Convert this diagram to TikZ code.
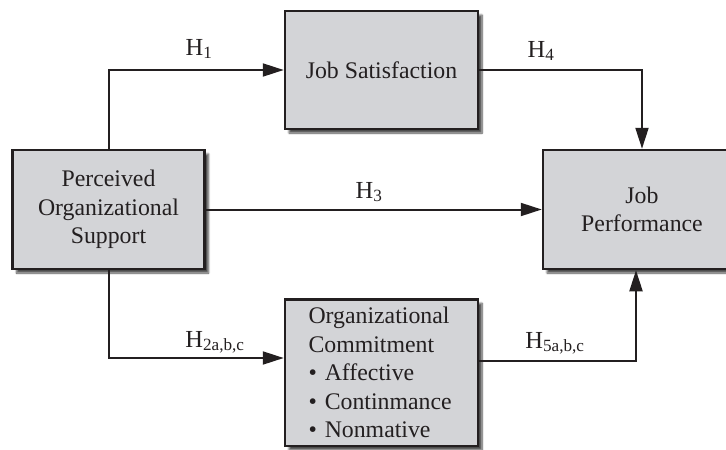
\documentclass[tikz,border=0pt]{standalone}
\usepackage{fontspec}
\setmainfont{Liberation Serif}
\usetikzlibrary{arrows.meta,calc,shadows.blur}
\definecolor{BoxGray}{RGB}{211,212,215}
\definecolor{InkBlack}{RGB}{35,31,32}
\tikzset{
  factor/.style={draw=InkBlack,line width=2.5pt,fill=BoxGray,align=center,
    text=InkBlack,font=\fontsize{23.8}{28.5}\selectfont,
    blur shadow={shadow xshift=4pt,shadow yshift=-4pt,
      shadow blur steps=8,shadow opacity=70}},
  link/.style={draw=InkBlack,line width=2pt,
    -{Triangle[length=21pt,width=13pt]}},
  hyp/.style={anchor=base,text=InkBlack,font=\fontsize{24.5}{28}\selectfont}
}

\begin{document}
\begin{tikzpicture}[x=1pt,y=-1pt]
  \useasboundingbox (0,0) rectangle (726,450);
  \clip (0,0) rectangle (726,450);
  % boxes
  \node[factor,minimum width=192pt,minimum height=119pt] (pos)
    at (108.5,209.5) {Perceived\\Organizational\\Support};
  \node[factor,minimum width=193pt,minimum height=118pt] (js)
    at (381.5,70) {Job Satisfaction};
  \node[factor,minimum width=198pt,minimum height=119pt] (jp)
    at (642,209.5) {Job\\Performance};
  \node[factor,anchor=north,align=left,text width=146pt,
    inner xsep=23.5pt,inner ysep=8pt] (oc) at (381.5,298)
    {Organizational\\Commitment\\\textbullet\ Affective\\
     \textbullet\ Continmance\\\textbullet\ Nonmative};
  % connectors
  \draw[link] (pos.north) |- (js.west);
  \draw[link] (js.east) -| (jp.north);
  \draw[link] (pos.east) -- (jp.west);
  \draw[link] (pos.south) |- ($(oc.north west)+(0,60)$);
  \draw[link] ($(oc.north east)+(0,63)$) -| ([xshift=-6pt]jp.south);
  % hypotheses
  \node[hyp] (hone) at (199,55) {H\textsubscript{1}};
  \node[hyp] (hfour) at (541,57) {H\textsubscript{4}};
  \node[hyp] (hthree) at (369,198) {H\textsubscript{3}};
  \node[hyp] (htwo) at (215,347) {H\textsubscript{2a,b,c}};
  \node[hyp] (hfive) at (555,348) {H\textsubscript{5a,b,c}};
\end{tikzpicture}
\end{document}
